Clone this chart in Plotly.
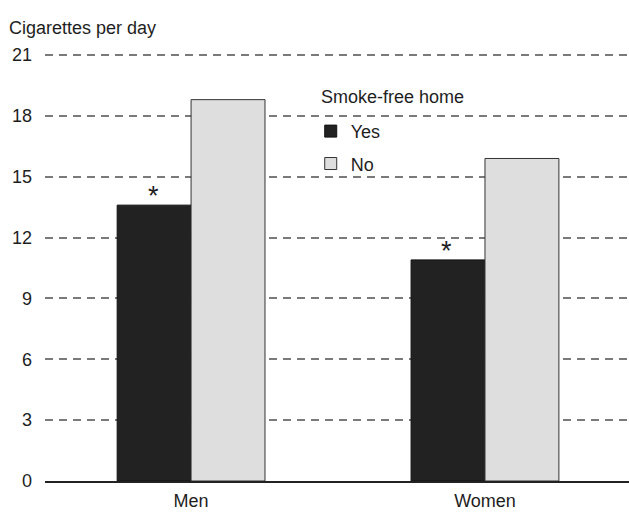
import plotly.graph_objects as go

groups = ["Men", "Women"]
yes_values = [13.6, 10.9]
no_values = [18.8, 15.9]
y_ticks = [0, 3, 6, 9, 12, 15, 18, 21]

FONT = "Liberation Sans, Arial, sans-serif"
INK = "#1e1e1e"

fig = go.Figure()
fig.add_trace(go.Bar(
    x=groups, y=yes_values, name="Yes", legendgroup="yes",
    marker=dict(color="#222222", line=dict(color="#111111", width=1)),
))
fig.add_trace(go.Bar(
    x=groups, y=no_values, name="No", legendgroup="no",
    marker=dict(color="#dedede", line=dict(color="#333333", width=1)),
))

# significance markers above the "Yes" bars
for g, v in zip(groups, yes_values):
    fig.add_annotation(
        x=g, y=v, xshift=-38, yshift=-8, text="*", showarrow=False,
        yanchor="bottom", font=dict(size=27, color=INK, family=FONT),
    )

fig.add_annotation(
    xref="paper", yref="paper", x=-0.065, y=1.03, xanchor="left", yanchor="bottom",
    text="Cigarettes per day", showarrow=False,
    font=dict(size=18, color=INK, family=FONT),
)
fig.add_annotation(
    xref="paper", yref="paper", x=0.47, y=0.87, xanchor="left", yanchor="bottom",
    text="Smoke-free home", showarrow=False,
    font=dict(size=18, color=INK, family=FONT),
)

fig.update_layout(
    width=629, height=513,
    margin=dict(l=45, r=0, t=53, b=32),
    plot_bgcolor="white", paper_bgcolor="white",
    barmode="group", bargap=0.497, bargroupgap=0,
    font=dict(family=FONT, size=18, color=INK),
    showlegend=True,
    legend=dict(
        x=0.455, y=0.86, xanchor="left", yanchor="top",
        bgcolor="rgba(0,0,0,0)", font=dict(size=18, family=FONT),
        itemwidth=30, tracegroupgap=6,
    ),
    xaxis=dict(
        showline=True, linecolor="#222222", linewidth=2,
        showgrid=False, ticks="", tickfont=dict(size=18),
        ticklabelstandoff=2, range=[-0.497, 1.49],
    ),
    yaxis=dict(
        range=[0, 21.1], tickvals=y_ticks, showline=False, zeroline=False,
        showgrid=True, gridcolor="#7a7a7a", gridwidth=1.5, griddash="8px,6px",
        ticks="", ticklabelstandoff=12, tickfont=dict(size=18),
    ),
)

fig.write_html("out.html")
